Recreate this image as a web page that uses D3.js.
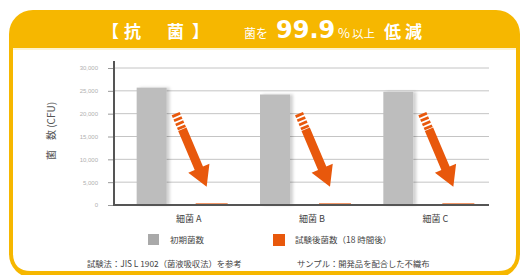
<!DOCTYPE html>
<html>
<head>
<meta charset="utf-8">
<script src="https://cdn.jsdelivr.net/npm/d3@7"></script>
<style>
  body { margin: 0; background: #fff; }
  text { font-family: "Noto Sans CJK JP", "Noto Sans", sans-serif; }
</style>
</head>
<body>
<div id="chart"></div>
<script>
// chart data
var categories = ["A", "B", "C"];
var categoryLabels = ["細菌 A", "細菌 B", "細菌 C"];
var seriesNames = ["初期菌数", "試験後菌数（18 時間後）"];
var initialCounts = [25700, 24200, 24800];
var afterCounts = [25, 25, 25];
var yTicks = [0, 5000, 10000, 15000, 20000, 25000, 30000];

var svgWidth = 522;
var svgHeight = 275;

var yellow = "#f6b700";
var grayBar = "#bdbdbd";
var orange = "#e8580c";

var svg = d3.select("#chart")
  .append("svg")
  .attr("width", svgWidth)
  .attr("height", svgHeight);

var defs = svg.append("defs");
var shadow = defs.append("filter")
  .attr("id", "barShadow")
  .attr("x", "-20%").attr("y", "-5%")
  .attr("width", "150%").attr("height", "110%");
shadow.append("feDropShadow")
  .attr("dx", 3).attr("dy", 0)
  .attr("stdDeviation", 1.6)
  .attr("flood-color", "#000")
  .attr("flood-opacity", 0.18);

// card frame
svg.append("rect")
  .attr("x", 9).attr("y", 10)
  .attr("width", 511).attr("height", 268)
  .attr("rx", 24)
  .attr("fill", yellow);

var ix0 = 13, ix1 = 516, iy0 = 48, iy1 = 271, r = 18;
svg.append("path")
  .attr("d", `M${ix0},${iy0} H${ix1} V${iy1 - r} Q${ix1},${iy1} ${ix1 - r},${iy1} H${ix0 + r} Q${ix0},${iy1} ${ix0},${iy1 - r} Z`)
  .attr("fill", "#fff");

svg.append("rect")
  .attr("x", ix0).attr("y", iy0)
  .attr("width", ix1 - ix0).attr("height", 2)
  .attr("fill", "#fdf3cf");

// header title (pieces placed like the original artwork)
var titleParts = [
  { t: "【", x: 102, size: 17, bold: true },
  { t: "抗", x: 124, size: 17, bold: true },
  { t: "菌", x: 167, size: 17, bold: true },
  { t: "】", x: 192, size: 17, bold: true },
  { t: "菌を", x: 244, size: 12, bold: false },
  { t: "99.9", x: 276, size: 24, bold: true, latin: true },
  { t: "%", x: 338, size: 13, bold: false },
  { t: "以上", x: 352, size: 11.5, bold: false },
  { t: "低", x: 384, size: 17, bold: true },
  { t: "減", x: 405, size: 17, bold: true }
];
svg.append("g")
  .selectAll("text")
  .data(titleParts)
  .enter()
  .append("text")
  .attr("x", d => d.x)
  .attr("y", 38)
  .attr("fill", "#fff")
  .attr("font-weight", d => d.bold ? "bold" : "normal")
  .style("font-size", d => d.size + "px")
  .style("font-family", d => d.latin ? "'DejaVu Sans', sans-serif" : null)
  .text(d => d.t);

// scales
var x0 = d3.scaleBand()
  .domain(categories)
  .range([120, 490])
  .padding(0);

var x1 = d3.scaleBand()
  .domain(["initial", "after"])
  .range([x0.bandwidth() / 2 - 45, x0.bandwidth() / 2 + 45])
  .paddingInner(0.5);

var yScale = d3.scaleLinear()
  .domain([0, 30000])
  .range([205, 68]);

var axisX = 114, axisRight = 489;

// gridlines
svg.append("g")
  .selectAll("line")
  .data(yTicks.filter(d => d > 0))
  .enter()
  .append("line")
  .attr("x1", axisX).attr("x2", axisRight)
  .attr("y1", d => yScale(d)).attr("y2", d => yScale(d))
  .attr("stroke", "#c4c4c4")
  .attr("stroke-width", 1);

// y axis ticks & labels
var leftAxis = d3.axisLeft(yScale)
  .tickValues(yTicks)
  .tickFormat(d3.format(","))
  .tickSize(6)
  .tickPadding(10);

var yAxisG = svg.append("g")
  .attr("transform", `translate(${axisX}, 0)`)
  .call(leftAxis);
yAxisG.select(".domain").remove();
yAxisG.selectAll("line").attr("stroke", "#999");
yAxisG.selectAll("text")
  .attr("fill", "#b0b0b0")
  .style("font-size", "6px")
  .style("font-family", "'Liberation Sans', sans-serif");

// gray bars
var groups = svg.append("g")
  .selectAll("g")
  .data(categories)
  .enter()
  .append("g")
  .attr("transform", d => `translate(${x0(d)}, 0)`);

groups.append("rect")
  .attr("x", x1("initial"))
  .attr("y", (d, i) => yScale(initialCounts[i]))
  .attr("width", x1.bandwidth())
  .attr("height", (d, i) => yScale(0) - yScale(initialCounts[i]))
  .attr("fill", grayBar)
  .attr("filter", "url(#barShadow)");

// axis lines
svg.append("line")
  .attr("x1", axisX).attr("x2", axisX)
  .attr("y1", 61).attr("y2", yScale(0) + 1)
  .attr("stroke", "#555").attr("stroke-width", 2);
svg.append("line")
  .attr("x1", axisX - 1).attr("x2", axisRight)
  .attr("y1", yScale(0)).attr("y2", yScale(0))
  .attr("stroke", "#555").attr("stroke-width", 2);

// orange bars (almost zero)
groups.append("rect")
  .attr("x", x1("after"))
  .attr("y", (d, i) => yScale(afterCounts[i]) - 0.5)
  .attr("width", x1.bandwidth())
  .attr("height", (d, i) => yScale(0) - yScale(afterCounts[i]) + 0.5)
  .attr("fill", orange)
  .attr("stroke", orange)
  .attr("stroke-width", 2);

// decorative down arrows
var arrowDx = 31, arrowDy = 73;
var arrowLen = Math.sqrt(arrowDx * arrowDx + arrowDy * arrowDy);
var arrowAngle = Math.atan2(arrowDy, arrowDx) * 180 / Math.PI;

groups.each(function(d, i) {
  var cx = x0.bandwidth() / 2;
  var a = d3.select(this).append("g")
    .attr("transform", `translate(${cx - 6}, ${yScale(20000)}) rotate(${arrowAngle})`)
    .attr("fill", orange);
  [0, 4.5, 9, 13.5].forEach(function(s) {
    a.append("rect")
      .attr("x", s).attr("y", -4.3)
      .attr("width", 2.8).attr("height", 8.6);
  });
  a.append("path")
    .attr("d", `M17,-4.5 H${arrowLen - 20} V-11.5 L${arrowLen},0 L${arrowLen - 20},11.5 V4.5 H17 Z`);
});

// x labels
svg.append("g")
  .selectAll("text")
  .data(categories)
  .enter()
  .append("text")
  .attr("x", d => x0(d) + x0.bandwidth() / 2 + 7)
  .attr("y", 222)
  .attr("text-anchor", "middle")
  .attr("fill", "#444")
  .style("font-size", "9px")
  .text((d, i) => categoryLabels[i]);

// y axis title
svg.append("text")
  .attr("transform", "translate(55, 131) rotate(-90)")
  .attr("text-anchor", "middle")
  .attr("fill", "#555")
  .style("font-size", "10px")
  .text("菌　数 (CFU)");

// legend
var legendColors = ["#a9a9a9", orange];
var legendX = [148, 273];
var legend = svg.append("g")
  .selectAll("g")
  .data(seriesNames)
  .enter()
  .append("g")
  .attr("transform", (d, i) => `translate(${legendX[i]}, 234)`);
legend.append("rect")
  .attr("width", (d, i) => i === 0 ? 11 : 12)
  .attr("height", (d, i) => i === 0 ? 11 : 12)
  .attr("fill", (d, i) => legendColors[i]);
legend.append("text")
  .attr("x", 22)
  .attr("y", 9)
  .attr("fill", "#444")
  .style("font-size", "8.5px")
  .text(d => d);

// footer notes
svg.append("text")
  .attr("x", 87).attr("y", 267)
  .attr("fill", "#444")
  .style("font-size", "8.3px")
  .text("試験法：JIS L 1902（菌液吸収法）を参考");
svg.append("text")
  .attr("x", 297).attr("y", 267)
  .attr("fill", "#444")
  .style("font-size", "8.3px")
  .text("サンプル：開発品を配合した不織布");
</script>
</body>
</html>
